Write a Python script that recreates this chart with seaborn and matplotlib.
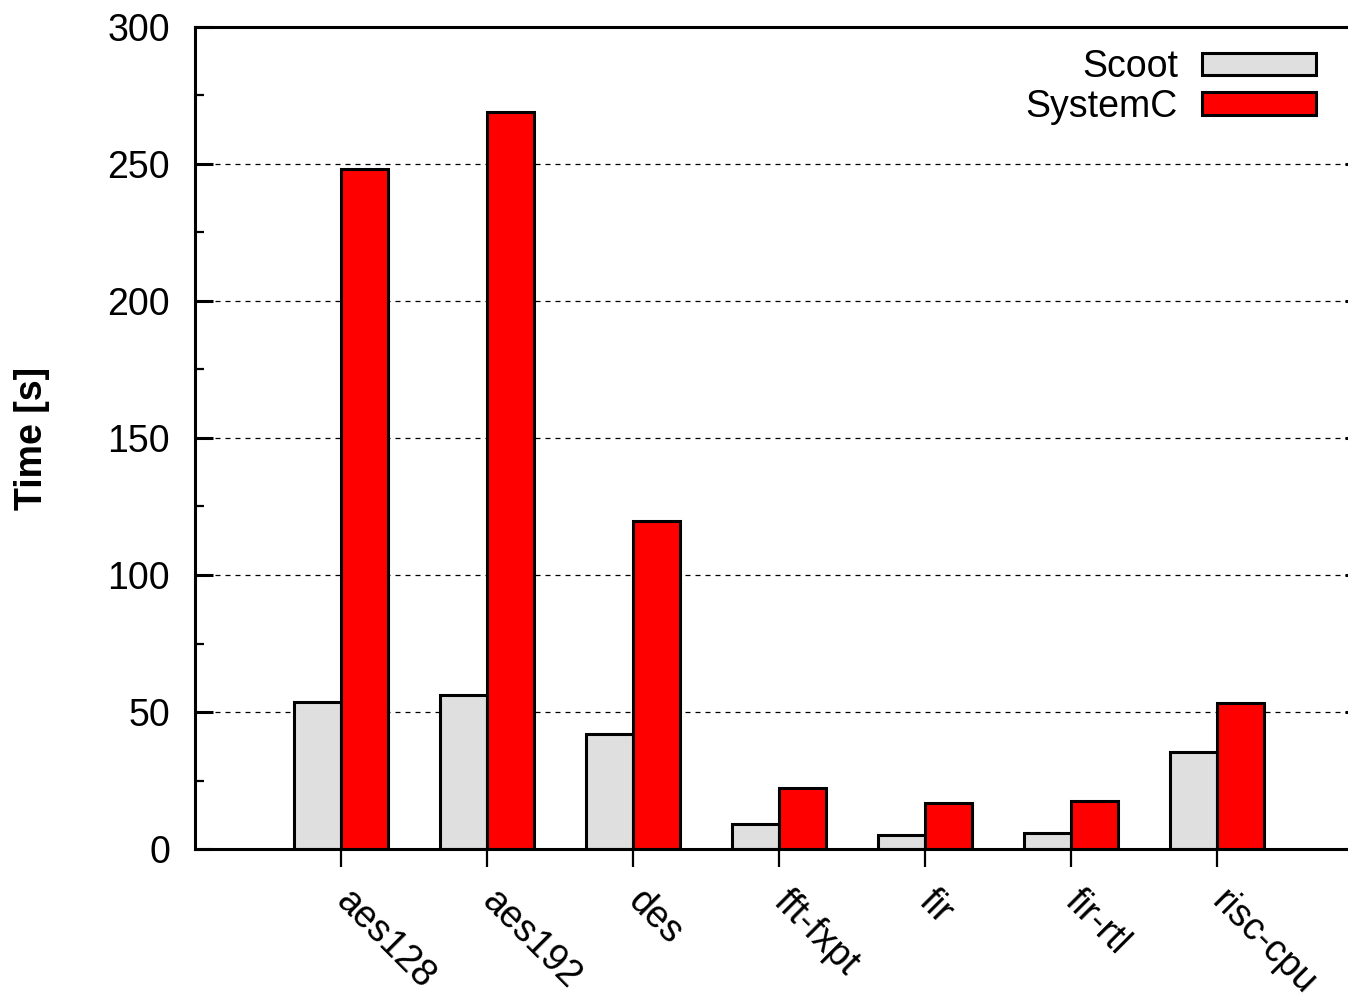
import matplotlib
matplotlib.use("Agg")
import matplotlib.pyplot as plt
from matplotlib.ticker import MultipleLocator
import pandas as pd
import seaborn as sns

benchmarks = ["aes128", "aes192", "des", "fft-fxpt", "fir", "fir-rtl", "risc-cpu"]
scoot_times = [53.6, 56.2, 42.0, 9.0, 5.0, 5.8, 35.3]
systemc_times = [248.2, 269.0, 119.7, 22.4, 16.8, 17.5, 53.4]
series_names = ["Scoot", "SystemC"]
series_colors = ["#dfdfdf", "#ff0000"]
y_ticks = [0, 50, 100, 150, 200, 250, 300]

df = pd.DataFrame({
    "benchmark": benchmarks * 2,
    "time": scoot_times + systemc_times,
    "tool": [series_names[0]] * len(benchmarks) + [series_names[1]] * len(benchmarks),
})

sns.set_style("white")
plt.rcParams["font.family"] = ["Liberation Sans", "DejaVu Sans"]
plt.rcParams["font.size"] = 27
for key in ["text.color", "axes.labelcolor", "xtick.color", "ytick.color"]:
    plt.rcParams[key] = "black"

W, H = 1348, 997
fig = plt.figure(figsize=(W / 100, H / 100), dpi=100)
ax = fig.add_axes([195 / W, (H - 849) / H, 1168 / W, 822 / H])
ax.set_axisbelow(True)

sns.barplot(
    data=df, x="benchmark", y="time", hue="tool",
    order=benchmarks, hue_order=series_names,
    palette=series_colors, saturation=1,
    width=0.64, gap=0, edgecolor="black", linewidth=2.2,
    ax=ax,
)

ax.set_xlim(-1, 7)
ax.set_ylim(0, 300)
ax.set_yticks(y_ticks)
ax.yaxis.set_minor_locator(MultipleLocator(25))

# dotted horizontal guides at the inner major ticks
for v in y_ticks[1:-1]:
    ax.axhline(v, color="black", lw=0.9, ls=(0, (4, 4)), zorder=0)

for side in ["left", "right", "top", "bottom"]:
    ax.spines[side].set_linewidth(2.2)
    ax.spines[side].set_color("black")

ax.tick_params(axis="y", which="major", direction="in", length=13, width=2.2,
               labelsize=27, pad=18, left=True, right=True)
ax.tick_params(axis="y", which="minor", direction="in", length=6.5, width=1.6,
               left=True, right=True)
ax.tick_params(axis="x", which="major", direction="out", length=13, width=1.6,
               labelsize=27, pad=21, bottom=True, top=False)

ax.set_xticks(range(len(benchmarks)))
ax.set_xticklabels(benchmarks, rotation=-45, ha="left", va="center",
                   rotation_mode="anchor")

ax.set_xlabel("")
ax.set_ylabel("Time [s]", fontsize=27, fontweight="bold")
ax.yaxis.set_label_coords((50 - 195) / 1168, 0.5)

handles, labels = ax.get_legend_handles_labels()
if ax.get_legend() is not None:
    ax.get_legend().remove()
fig.legend(
    handles, labels, loc="upper right",
    bbox_to_anchor=(1316 / W, (H - 49) / H), bbox_transform=fig.transFigure,
    frameon=False, markerfirst=False, fontsize=27,
    handlelength=3.04, handleheight=0.53, handletextpad=0.64,
    labelspacing=0.1, borderpad=0, borderaxespad=0,
)

fig.savefig("out.png", dpi=100)
